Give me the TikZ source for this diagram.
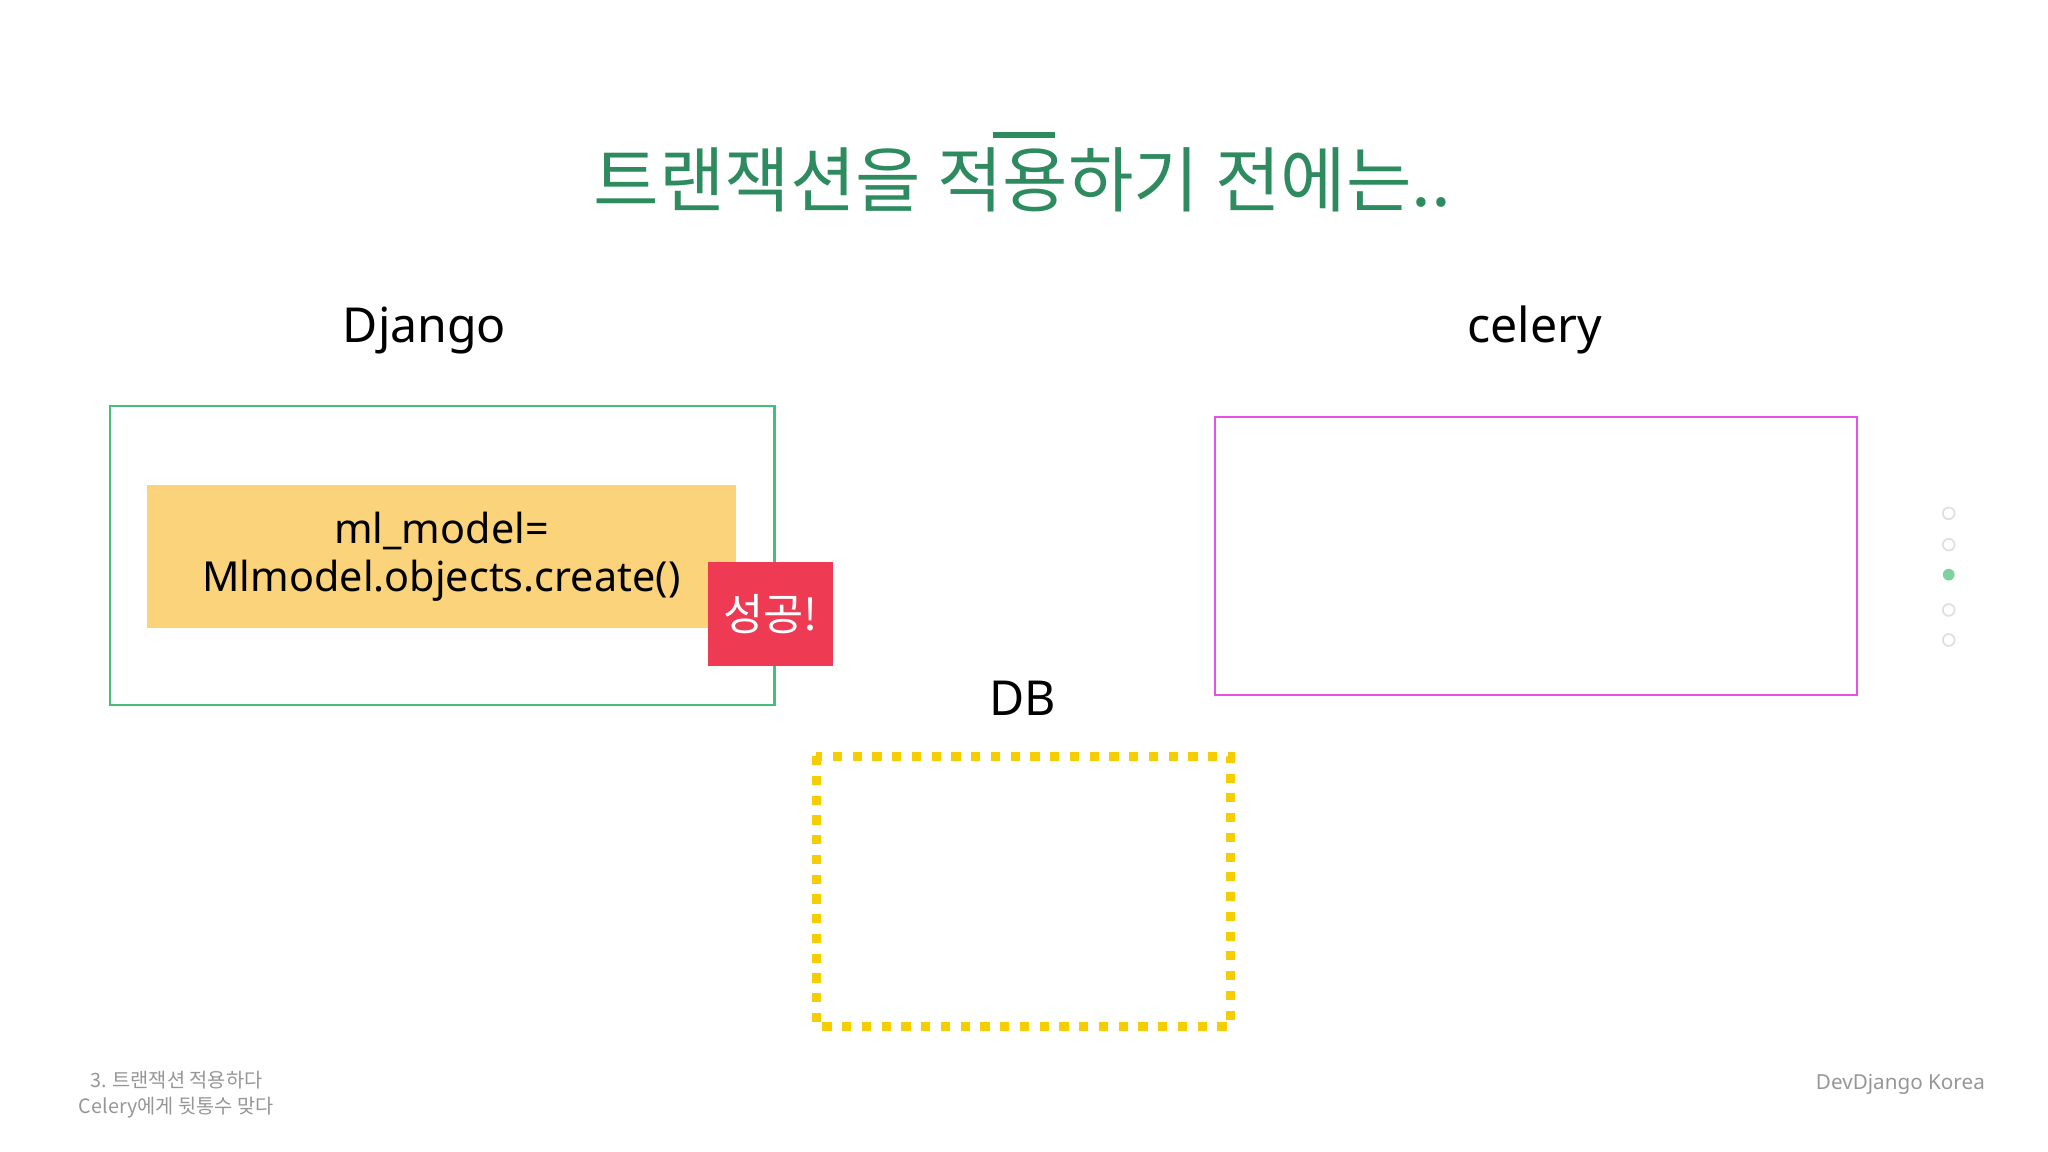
\documentclass[tikz,border=0pt]{standalone}
\usepackage{fontspec}
\setmainfont{Noto Sans}
\newfontfamily\cjk{Noto Sans CJK KR}
\definecolor{ttl}{RGB}{46,139,96}
\definecolor{ylw}{RGB}{251,211,122}
\definecolor{rd}{RGB}{238,58,82}
\definecolor{mag}{RGB}{230,80,230}
\definecolor{grn}{RGB}{70,190,120}
\definecolor{dbY}{RGB}{245,205,0}
\definecolor{ft}{RGB}{150,150,150}
\tikzset{lbl/.style={font=\fontsize{10.5}{12}\selectfont},
dot/.style={circle,draw=black!12,fill=white,inner sep=0pt,minimum size=0.09cm}}
\begin{document}
\begin{tikzpicture}[x=0.01cm,y=-0.01cm]
\useasboundingbox (0,0) rectangle (1568,882);
\node[text=ttl,font=\cjk\fontsize{15.5}{17}\selectfont] (title) at (783,138) {트랜잭션을 적용하기 전에는..};
\draw[ttl,line width=1.3pt] (760,103) -- (808,103);
\node[lbl] (dj) at (325,253) {Django};
\node[lbl] (ce) at (1175,253) {celery};
\node[lbl] (db) at (783,535) {DB};
\draw[grn,line width=0.5pt] (84,311) rectangle (593,540);
\node[fill=ylw,minimum width=4.5cm,minimum height=1.09cm,align=center,font=\fontsize{9}{10.5}\selectfont] (code) at (338,426) {ml\_model=\\Mlmodel.objects.create()};
\node[fill=rd,text=white,minimum width=0.96cm,minimum height=0.8cm,font=\cjk\fontsize{9.5}{11}\selectfont] (ok) at (590,470) {성공!};
\draw[mag,line width=0.5pt] (930,319) rectangle (1422,532);
\draw[dbY,line width=2pt,dash pattern=on 2pt off 2.3pt] (625,579) rectangle (942,786);
\foreach \y in {393,417,467,490}{\node[dot] at (1492,\y) {};}
\node[dot,fill=grn!70,draw=none] (cur) at (1492,440) {};
\node[text=ft,font=\cjk\fontsize{4.3}{5.6}\selectfont,align=center] (f1) at (135,838) {3. 트랜잭션 적용하다\\Celery에게 뒷통수 맞다};
\node[text=ft,font=\fontsize{4.5}{6}\selectfont] (f2) at (1455,830) {DevDjango Korea};
\end{tikzpicture}
\end{document}
